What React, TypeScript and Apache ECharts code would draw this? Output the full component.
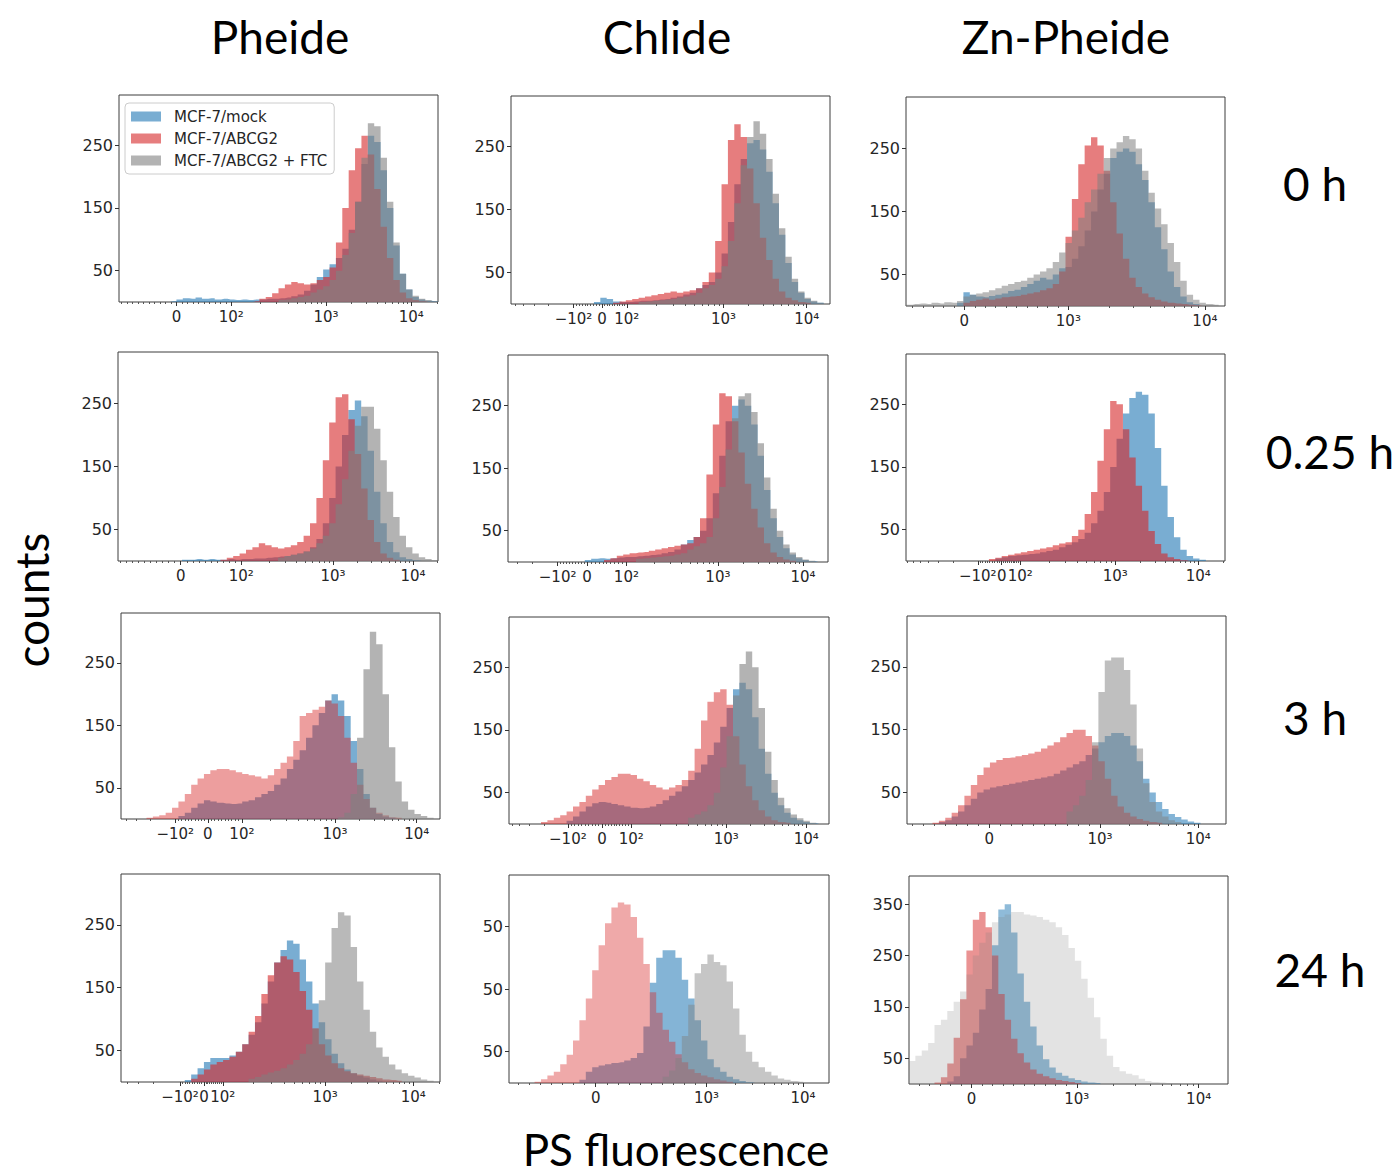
import React, { useEffect, useRef } from "react";
import * as echarts from "echarts";

// ---------------- labels ----------------
const seriesNames = ["MCF-7/mock", "MCF-7/ABCG2", "MCF-7/ABCG2 + FTC"];
const columnTitles = ["Pheide", "Chlide", "Zn-Pheide"];
const rowTitles = ["0 h", "0.25 h", "3 h", "24 h"];
const xAxisTitle = "PS fluorescence";
const yAxisTitle = "counts";

// The fluorescence axis of every panel spans 0..100 display units, split in 50 bins.
const BIN_WIDTH = 2;
const AXIS_MAX = 100;

// ---------------- counts per bin (50 bins, left to right) ----------------
// Pheide 0 h
const pheide0hMock = [0,0,0,0,0,0,0,0,1, 4,6,5,7,5,6,4,5,4,3,4, 3,4,4,5,5,6,7,9,12,18, 28,40,52,60,70,85,115,160,220,265, 255,210,150,90,45,20,8,4,2,1];
const pheide0hAbcg2 = [0,0,0,0,0,0,0,0,0,0, 0,0,0,0,0,0,0,0,0,0, 0,1,5,8,14,22,28,32,30,28, 30,35,40,55,95,150,210,245,265,235, 180,120,70,35,15,6,3,1,0,0];
const pheide0hFtc = [0,0,0,0,0,0,0,0,0,0, 0,0,0,0,0,0,0,0,0,0, 0,0,0,0,0,3,4,6,8,10, 15,20,25,35,50,75,110,160,230,285, 280,230,160,95,45,20,10,5,3,1];
// Chlide 0 h
const chlide0hMock = [0,0,0,0,0,0,0,0,0,0, 0,0,0,3,10,8,4,3,3,4, 5,5,6,7,8,10,12,15,18,25, 30,35,50,80,130,190,230,255,260,245, 210,160,110,65,35,18,8,4,2,0];
const chlide0hAbcg2 = [0,0,0,0,0,0,0,0,0,0, 0,0,0,0,0,0,2,4,6,8, 10,12,14,16,18,20,18,20,22,25, 35,50,100,190,260,285,265,215,160,105, 70,40,20,10,6,3,2,0,0,0];
const chlide0hFtc = [0,0,0,0,0,0,0,0,0,0, 0,0,0,0,0,0,0,0,0,0, 3,4,5,6,7,8,10,12,14,18, 25,30,40,60,100,160,220,265,290,270, 230,175,120,75,40,20,10,5,2,0];
// Zn-Pheide 0 h
const znPheide0hMock = [0,0,0,0,0,0,0,0,5,22, 18,15,14,16,18,20,24,26,30,35, 40,45,42,50,60,62,75,95,120,150, 185,210,235,245,250,245,225,200,165,125, 90,55,30,15,6,3,0,0,0,0];
const znPheide0hAbcg2 = [0,0,0,0,0,0,0,0,0,5, 8,10,12,10,12,14,15,16,18,20, 22,25,28,35,55,110,170,225,255,268, 255,215,165,115,75,45,30,20,14,10, 7,5,4,3,2,1,0,0,0,0];
const znPheide0hFtc = [2,3,4,3,5,4,6,5,8,15, 18,20,22,25,28,32,35,38,40,45, 50,55,60,70,85,100,120,140,165,185, 210,235,250,260,270,265,250,215,180,155, 130,100,70,40,18,10,5,3,2,0];
// Pheide 0.25 h
const pheide025hMock = [0,0,0,0,0,0,0,0,0,0, 2,2,3,2,3,2,2,3,2,3, 3,4,4,5,6,7,8,10,12,15, 22,35,60,100,150,200,240,255,230,175, 110,60,30,14,6,3,1,0,0,0];
const pheide025hAbcg2 = [0,0,0,0,0,0,0,0,0,0, 0,0,0,0,0,0,2,5,8,12, 18,22,28,25,22,20,22,25,30,40, 60,100,160,220,260,265,225,170,115,65, 30,12,5,2,0,0,0,0,0,0];
const pheide025hFtc = [0,0,0,0,0,0,0,0,0,0, 0,0,0,0,0,0,0,0,0,0, 0,0,0,0,0,5,8,10,12,15, 20,28,40,60,90,130,175,215,245,245, 210,160,110,70,40,22,12,6,3,1];
// Chlide 0.25 h
const chlide025hMock = [0,0,0,0,0,0,0,0,0,0, 0,0,3,5,6,5,6,7,8,8, 9,10,11,12,14,16,20,28,35,40, 50,70,110,170,225,250,260,250,220,170, 115,70,40,22,12,6,3,1,0,0];
const chlide025hAbcg2 = [0,0,0,0,0,0,0,0,0,0, 0,0,0,0,0,3,6,10,12,14, 15,16,18,20,22,24,26,28,30,40, 70,140,220,270,265,225,175,125,85,55, 30,15,8,4,2,0,0,0,0,0];
const chlide025hFtc = [0,0,0,0,0,0,0,0,0,0, 0,0,0,0,0,0,0,0,0,0, 5,6,7,8,9,10,12,14,20,25, 30,40,70,120,180,230,265,270,240,190, 135,85,50,28,15,8,4,2,0,0];
// Zn-Pheide 0.25 h
const znPheide025hMock = [0,0,0,0,0,0,0,0,0,0, 0,0,0,0,4,6,8,9,10,11, 12,14,16,18,22,26,30,35,45,60, 80,110,150,195,235,260,270,265,235,180, 120,70,38,18,8,4,2,0,0,0];
const znPheide025hAbcg2 = [0,0,0,0,0,0,0,0,0,0, 0,0,0,3,5,8,10,12,14,16, 18,20,22,25,28,30,40,50,75,110, 160,210,255,250,210,165,120,80,48,27, 12,6,3,1,0,0,0,0,0,0];
const znPheide025hFtc: number[] = [];
// Pheide 3 h
const pheide3hMock = [0,0,0,0,0,0,0,0,0,5, 10,18,25,30,28,26,25,24,25,28, 30,35,40,45,55,65,80,95,110,130, 150,170,190,200,190,165,125,80,40,18, 8,4,2,0,0,0,0,0,0,0];
const pheide3hAbcg2 = [0,0,0,0,2,4,6,10,18,28, 40,55,65,72,78,80,80,78,75,72, 70,68,65,70,80,90,100,125,165,170, 175,180,190,185,165,130,90,55,32,18, 10,6,3,2,0,0,0,0,0,0];
const pheide3hFtc = [0,0,0,0,0,0,0,0,0,0, 0,0,0,0,0,0,0,0,0,0, 0,0,0,0,0,0,0,0,0,0, 0,0,0,0,3,10,40,130,240,300, 280,200,115,60,28,15,8,5,2,0];
// Chlide 3 h
const chlide3hMock = [0,0,0,0,0,0,0,0,0,5, 12,20,28,33,35,34,32,30,28,26, 25,26,28,32,38,45,52,60,70,82, 95,110,130,155,185,215,225,215,170,120, 80,50,30,18,10,6,3,1,0,0];
const chlide3hAbcg2 = [0,0,0,0,0,3,6,10,14,20, 28,35,45,55,62,70,75,80,80,78, 72,68,62,58,55,58,62,70,85,120, 165,195,210,215,190,140,95,60,38,22, 12,6,3,2,0,0,0,0,0,0];
const chlide3hFtc = [0,0,0,0,0,0,0,0,0,0, 0,0,0,0,0,0,0,0,0,0, 0,0,0,0,0,0,0,0,10,15, 20,30,50,90,140,205,255,275,250,185, 115,70,42,25,15,9,5,2,0,0];
// Zn-Pheide 3 h
const znPheide3hMock = [0,0,0,0,0,3,6,12,20,30, 40,50,55,58,60,62,64,66,68,70, 72,74,76,80,85,90,95,100,110,120, 130,140,145,145,140,125,100,72,50,35, 24,16,11,7,4,2,0,0,0,0];
const znPheide3hAbcg2 = [0,0,0,0,2,5,10,18,30,45, 62,78,90,98,102,105,106,108,110,112, 115,120,125,130,138,145,150,150,140,125, 100,72,45,28,18,12,8,5,3,2, 0,0,0,0,0,0,0,0,0,0];
const znPheide3hFtc = [0,0,0,0,0,0,0,0,0,0, 0,0,0,0,0,0,0,0,0,0, 0,0,0,0,0,20,30,45,70,130, 210,260,265,265,245,190,120,65,35,20, 12,6,3,0,0,0,0,0,0,0];
// Pheide 24 h
const pheide24hMock = [0,0,0,0,0,0,0,0,0,0, 3,12,22,32,38,38,38,42,48,60, 75,95,125,160,190,210,225,220,195,160, 125,95,68,45,30,20,14,10,7,4, 2,0,0,0,0,0,0,0,0,0];
const pheide24hAbcg2 = [0,0,0,0,0,0,0,0,0,0, 0,5,12,20,28,32,35,40,48,60, 80,105,140,170,190,200,195,175,145,115, 85,60,42,30,22,17,14,12,10,8, 6,4,3,2,0,0,0,0,0,0];
const pheide24hFtc = [0,0,0,0,0,0,0,0,0,0, 0,0,0,0,0,0,0,0,0,0, 5,8,12,15,18,22,28,35,45,60, 85,130,190,245,270,265,215,160,115,80, 55,40,28,20,14,10,7,4,2,0];
// Chlide 24 h
const chlide24hMock = [0,0,0,0,0,0,0,0,0,0, 0,5,18,25,28,30,32,33,36,40, 48,90,160,200,212,212,200,165,135,100, 68,38,25,18,10,6,3,1,0,0, 0,0,0,0,0,0,0,0,0,0];
const chlide24hAbcg2 = [0,0,0,0,2,6,12,18,30,45, 68,100,135,180,220,255,280,288,285,265, 232,190,145,112,85,66,46,33,22,16, 12,9,6,4,2,0,0,0,0,0, 0,0,0,0,0,0,0,0,0,0];
const chlide24hFtc = [0,0,0,0,0,0,0,0,0,0, 0,0,0,0,0,0,0,0,0,0, 0,0,0,0,10,20,40,75,125,175, 190,205,193,188,162,119,77,50,34,25, 18,12,7,5,3,2,0,0,0,0];
// Zn-Pheide 24 h
const znPheide24hMock = [0,0,0,0,0,0,5,15,50,75, 100,145,185,270,340,350,295,215,160,112, 75,48,32,22,16,11,8,5,3,2, 0,0,0,0,0,0,0,0,0,0, 0,0,0,0,0,0,0,0,0,0];
const znPheide24hAbcg2 = [0,0,0,0,3,13,40,90,165,260, 320,335,305,250,175,125,88,60,42,28, 20,15,11,8,6,4,2,0,0,0, 0,0,0,0,0,0,0,0,0,0, 0,0,0,0,0,0,0,0,0,0];
const znPheide24hFtc = [45,55,65,80,115,125,142,160,180,213, 250,275,295,315,325,330,335,335,330,328, 325,320,315,305,290,265,240,205,168,130, 88,55,33,25,20,17,10,6,4,3, 2,1,0,0,0,0,0,0,0,0];

// ---------------- tick labels: [axis position, label] ----------------
const xTicksPheide0h: [number, string][] = [[18.0, "0"], [35.2, "10²"], [64.9, "10³"], [91.6, "10⁴"]];
const xTicksChlide0h: [number, string][] = [[19.6, "−10²"], [28.5, "0"], [36.3, "10²"], [66.6, "10³"], [92.7, "10⁴"]];
const xTicksZnPheide0h: [number, string][] = [[18.3, "0"], [50.9, "10³"], [93.7, "10⁴"]];
const xTicksPheide025h: [number, string][] = [[19.6, "0"], [38.5, "10²"], [67.2, "10³"], [92.2, "10⁴"]];
const xTicksChlide025h: [number, string][] = [[15.5, "−10²"], [24.7, "0"], [37.0, "10²"], [65.6, "10³"], [92.2, "10⁴"]];
const xTicksZnPheide025h: [number, string][] = [[22.5, "−10²"], [30.0, "0"], [35.8, "10²"], [65.6, "10³"], [91.6, "10⁴"]];
const xTicksPheide3h: [number, string][] = [[17.0, "−10²"], [27.2, "0"], [37.9, "10²"], [67.1, "10³"], [92.7, "10⁴"]];
const xTicksChlide3h: [number, string][] = [[18.4, "−10²"], [29.1, "0"], [38.2, "10²"], [67.9, "10³"], [92.9, "10⁴"]];
const xTicksZnPheide3h: [number, string][] = [[25.8, "0"], [60.5, "10³"], [91.3, "10⁴"]];
const xTicksPheide24h: [number, string][] = [[18.5, "−10²"], [26.0, "0"], [31.9, "10²"], [64.0, "10³"], [91.6, "10⁴"]];
const xTicksChlide24h: [number, string][] = [[27.1, "0"], [61.7, "10³"], [91.9, "10⁴"]];
const xTicksZnPheide24h: [number, string][] = [[19.6, "0"], [52.6, "10³"], [90.8, "10⁴"]];

const yTicksCommon = [50, 150, 250];
const yLabelsCommon = ["50", "150", "250"];
const yLabelsChlide24h = ["50", "50", "50"];
const yTicksZnPheide24h = [50, 150, 250, 350];
const yLabelsZnPheide24h = ["50", "150", "250", "350"];

const panels = [
  { counts: [pheide0hMock, pheide0hAbcg2, pheide0hFtc], xTicks: xTicksPheide0h, yMax: 330, yTicks: yTicksCommon, yLabels: yLabelsCommon },
  { counts: [chlide0hMock, chlide0hAbcg2, chlide0hFtc], xTicks: xTicksChlide0h, yMax: 330, yTicks: yTicksCommon, yLabels: yLabelsCommon },
  { counts: [znPheide0hMock, znPheide0hAbcg2, znPheide0hFtc], xTicks: xTicksZnPheide0h, yMax: 332, yTicks: yTicksCommon, yLabels: yLabelsCommon },
  { counts: [pheide025hMock, pheide025hAbcg2, pheide025hFtc], xTicks: xTicksPheide025h, yMax: 332, yTicks: yTicksCommon, yLabels: yLabelsCommon },
  { counts: [chlide025hMock, chlide025hAbcg2, chlide025hFtc], xTicks: xTicksChlide025h, yMax: 331, yTicks: yTicksCommon, yLabels: yLabelsCommon },
  { counts: [znPheide025hMock, znPheide025hAbcg2, znPheide025hFtc], xTicks: xTicksZnPheide025h, yMax: 330, yTicks: yTicksCommon, yLabels: yLabelsCommon },
  { counts: [pheide3hMock, pheide3hAbcg2, pheide3hFtc], xTicks: xTicksPheide3h, yMax: 330, yTicks: yTicksCommon, yLabels: yLabelsCommon },
  { counts: [chlide3hMock, chlide3hAbcg2, chlide3hFtc], xTicks: xTicksChlide3h, yMax: 330, yTicks: yTicksCommon, yLabels: yLabelsCommon },
  { counts: [znPheide3hMock, znPheide3hAbcg2, znPheide3hFtc], xTicks: xTicksZnPheide3h, yMax: 331, yTicks: yTicksCommon, yLabels: yLabelsCommon },
  { counts: [pheide24hMock, pheide24hAbcg2, pheide24hFtc], xTicks: xTicksPheide24h, yMax: 331, yTicks: yTicksCommon, yLabels: yLabelsCommon },
  { counts: [chlide24hMock, chlide24hAbcg2, chlide24hFtc], xTicks: xTicksChlide24h, yMax: 332, yTicks: yTicksCommon, yLabels: yLabelsChlide24h },
  { counts: [znPheide24hMock, znPheide24hAbcg2, znPheide24hFtc], xTicks: xTicksZnPheide24h, yMax: 405, yTicks: yTicksZnPheide24h, yLabels: yLabelsZnPheide24h },
];

// ---------------- layout & style ----------------
// plot boxes: [left, top, width, height] in page pixels
const panelBoxes = [
  [119, 95, 319, 207], [511, 96, 319, 208], [906, 97, 319, 209],
  [118, 352, 320, 209], [508, 355, 320, 207], [906, 354, 319, 207],
  [121, 613, 319, 206], [509, 617, 320, 207], [907, 616, 319, 208],
  [121, 874, 319, 208], [509, 875, 320, 208], [909, 876, 319, 208],
];
const seriesRgb = [[31, 119, 180], [214, 39, 40], [128, 128, 128]];
const panelAlpha = [
  [0.6, 0.6, 0.6], [0.6, 0.6, 0.6], [0.6, 0.6, 0.55],
  [0.6, 0.6, 0.6], [0.6, 0.6, 0.6], [0.6, 0.6, 0.6],
  [0.6, 0.45, 0.6], [0.6, 0.5, 0.6], [0.55, 0.5, 0.5],
  [0.6, 0.6, 0.55], [0.55, 0.4, 0.45], [0.5, 0.5, 0.22],
];
const titleFont = "Lato, 'Open Sans', sans-serif";
const tickFont = "'DejaVu Sans', sans-serif";

function rgba(rgb: number[], a: number) {
  return `rgba(${rgb[0]},${rgb[1]},${rgb[2]},${a})`;
}

function minorTicks(ticks: [number, string][]): number[] {
  const out: number[] = [];
  const pos = ticks.map((t) => t[0]);
  const lab = ticks.map((t) => t[1]);
  const isPow = (s: string) => s.startsWith("10");
  const logM = [2, 3, 4, 5, 6, 7, 8, 9].map((m) => Math.log10(m));
  let decade = 0;
  for (let k = 0; k < pos.length - 1; k++) {
    if (isPow(lab[k]) && isPow(lab[k + 1])) decade = pos[k + 1] - pos[k];
  }
  for (let k = 0; k < pos.length - 1; k++) {
    const a = pos[k], b = pos[k + 1];
    if (isPow(lab[k]) && isPow(lab[k + 1])) logM.forEach((l) => out.push(a + l * (b - a)));
    else for (let m = 1; m < 10; m++) out.push(a + (m * (b - a)) / 10);
  }
  const last = pos[pos.length - 1];
  logM.forEach((l) => { const p = last + l * decade; if (p < AXIS_MAX) out.push(p); });
  const first = pos[0];
  if (lab[0].startsWith("−")) {
    logM.forEach((l) => { const p = first - l * decade; if (p > 0) out.push(p); });
  } else {
    const step = (pos[1] - pos[0]) / 10;
    for (let p = first - step; p > 0.5; p -= step) out.push(p);
  }
  return out;
}

function tickLabel(ticks: [number, string][], v: number) {
  const t = ticks.find((tk) => Math.abs(tk[0] - v) < 1e-6);
  return t ? t[1] : "";
}

export default function App() {
  const ref = useRef<HTMLDivElement>(null);

  useEffect(() => {
    if (!ref.current) return;
    const chart = echarts.init(ref.current, null, { renderer: "svg" });
    const grid: any[] = [];
    const xAxis: any[] = [];
    const yAxis: any[] = [];
    const series: any[] = [];
    const yLabelStyle = { fontFamily: tickFont, fontSize: 16, color: "#262626" };
    const xLabelStyle = { fontFamily: tickFont, fontSize: 15, color: "#262626" };

    panels.forEach((p, i) => {
      const [left, top, width, height] = panelBoxes[i];
      grid.push({ left, top, width, height, show: true, borderColor: "#3d3d3d", borderWidth: 1, backgroundColor: "transparent" });
      grid.push({ left, top, width, height, show: false });
      const tickVals = p.xTicks.map((t) => t[0]);
      // alternate labels go on two axes so that close neighbouring labels are all kept
      const evenVals = tickVals.filter((_, k) => k % 2 === 0);
      const oddVals = tickVals.filter((_, k) => k % 2 === 1);
      xAxis.push({
        gridIndex: 2 * i, type: "value", min: 0, max: AXIS_MAX, position: "bottom",
        axisLine: { show: false }, splitLine: { show: false },
        axisTick: { show: true, length: 4, customValues: tickVals, lineStyle: { color: "#333" } },
        axisLabel: {
          show: true, customValues: evenVals, margin: 7, hideOverlap: false, ...xLabelStyle,
          formatter: (v: number) => tickLabel(p.xTicks, v),
        },
      });
      xAxis.push({
        gridIndex: 2 * i + 1, type: "value", min: 0, max: AXIS_MAX, position: "bottom",
        axisLine: { show: false }, splitLine: { show: false },
        axisLabel: {
          show: true, customValues: oddVals, margin: 7, hideOverlap: false, ...xLabelStyle,
          formatter: (v: number) => tickLabel(p.xTicks, v),
        },
        axisTick: { show: true, length: 2, customValues: minorTicks(p.xTicks), lineStyle: { color: "#555" } },
      });
      yAxis.push({
        gridIndex: 2 * i, type: "value", min: 0, max: p.yMax,
        axisLine: { show: false }, splitLine: { show: false },
        axisTick: { show: true, length: 4, customValues: p.yTicks, lineStyle: { color: "#333" } },
        axisLabel: {
          show: true, customValues: p.yTicks, margin: 6, hideOverlap: false, ...yLabelStyle,
          formatter: (v: number) => { const k = p.yTicks.indexOf(v); return k >= 0 ? p.yLabels[k] : ""; },
        },
      });
      yAxis.push({ gridIndex: 2 * i + 1, type: "value", min: 0, max: p.yMax, show: false });

      p.counts.forEach((vals, s) => {
        if (!vals.length) return;
        const color = rgba(seriesRgb[s], panelAlpha[i][s]);
        const data: number[][] = [[-BIN_WIDTH / 2, 0]];
        vals.forEach((c, k) => data.push([k * BIN_WIDTH + BIN_WIDTH / 2, c]));
        data.push([vals.length * BIN_WIDTH + BIN_WIDTH / 2, 0]);
        series.push({
          type: "line", name: seriesNames[s], xAxisIndex: 2 * i, yAxisIndex: 2 * i,
          data, step: "middle", symbol: "none", showSymbol: false, silent: true,
          lineStyle: { width: 0, color }, itemStyle: { color },
          areaStyle: { color, opacity: 1 }, z: 2 + s,
        });
      });
    });

    const graphic: any[] = [];
    const colCenters = [280, 667, 1066];
    columnTitles.forEach((t, k) => graphic.push({
      type: "text", x: colCenters[k], y: 36,
      style: { text: t, font: `46px ${titleFont}`, fill: "#000", textAlign: "center", textVerticalAlign: "middle" },
    }));
    const rowCenters = [[1315, 183], [1330, 451], [1315, 717], [1320, 969]];
    rowTitles.forEach((t, k) => graphic.push({
      type: "text", x: rowCenters[k][0], y: rowCenters[k][1],
      style: { text: t, font: `46px ${titleFont}`, fill: "#000", textAlign: "center", textVerticalAlign: "middle" },
    }));
    graphic.push({
      type: "text", x: 31, y: 600, rotation: Math.PI / 2,
      style: { text: yAxisTitle, font: `46px ${titleFont}`, fill: "#000", textAlign: "center", textVerticalAlign: "middle" },
    });
    graphic.push({
      type: "text", x: 676, y: 1149,
      style: { text: xAxisTitle, font: `44px ${titleFont}`, fill: "#000", textAlign: "center", textVerticalAlign: "middle" },
    });

    chart.setOption({
      animation: false,
      backgroundColor: "#ffffff",
      grid, xAxis, yAxis, series, graphic,
      legend: {
        data: seriesNames.map((n, s) => ({ name: n, itemStyle: { color: rgba(seriesRgb[s], 0.6) } })),
        orient: "vertical", left: 125, top: 103, icon: "rect",
        itemWidth: 30, itemHeight: 10, itemGap: 7, selectedMode: false,
        textStyle: { fontFamily: tickFont, fontSize: 15, color: "#262626", padding: [0, 0, 0, 8] },
        backgroundColor: "rgba(255,255,255,0.85)", borderColor: "#cccccc", borderWidth: 1, borderRadius: 4,
        padding: [6, 7, 6, 6],
      },
    });
    return () => chart.dispose();
  }, []);

  return (
    <div
      ref={ref}
      style={{ position: "fixed", left: 0, top: 0, width: 1397, height: 1176, background: "#ffffff" }}
    />
  );
}
